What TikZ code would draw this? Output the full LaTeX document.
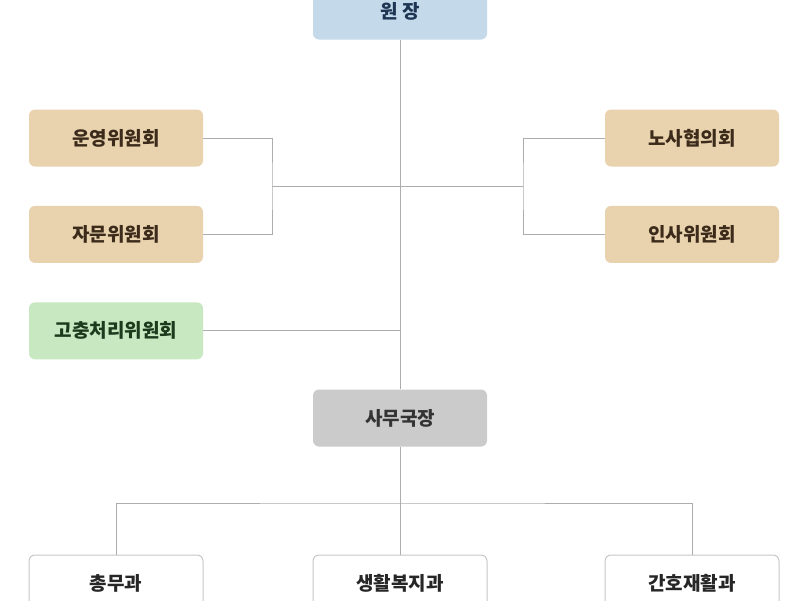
\documentclass[tikz,border=0pt]{standalone}
\usepackage{fontspec}
\usepackage{tikz}
\usetikzlibrary{positioning}
\newfontfamily\krfont{Noto Sans CJK KR}
\definecolor{headblue}{HTML}{C4D9EA}
\definecolor{headtext}{HTML}{1E3553}
\definecolor{cmtan}{HTML}{E9D3AE}
\definecolor{cmtext}{HTML}{3C2B1A}
\definecolor{cmgreen}{HTML}{C7E8C1}
\definecolor{greentext}{HTML}{1D3A1D}
\definecolor{secgray}{HTML}{CBCBCB}
\definecolor{linegray}{HTML}{ADADAD}
\tikzset{
  orgbox/.style={rounded corners=6pt,align=center,inner sep=0pt,
    minimum width=174pt,minimum height=57pt,
    font=\krfont\bfseries\fontsize{19}{22}\selectfont},
  headbox/.style={orgbox,fill=headblue,text=headtext},
  cmtbox/.style={orgbox,fill=cmtan,text=cmtext},
  grnbox/.style={orgbox,fill=cmgreen,text=greentext},
  secbox/.style={orgbox,fill=secgray,text=black!80},
  deptbox/.style={orgbox,fill=white,draw=black!22,line width=1pt,text=black!85},
  link/.style={draw=linegray,line width=0.9pt},
}
\begin{document}
\begin{tikzpicture}[x=1pt,y=-1pt,node distance=39pt and 110pt]
  \useasboundingbox[fill=white] (0,0) rectangle (800,600);
  % top
  \node[headbox] (head) at (400,11) {원 장};
  % committees
  \node[cmtbox] (unyeong) at (116,138) {운영위원회};
  \node[cmtbox,below=of unyeong] (jamun) {자문위원회};
  \node[grnbox,below=of jamun] (gochung) {고충처리위원회};
  \node[cmtbox] (nosa) at (692,138) {노사협의회};
  \node[cmtbox,below=of nosa] (insa) {인사위원회};
  % office
  \node[secbox] (samu) at (400,418) {사무국장};
  % departments
  \node[deptbox] (chongmu) at (116,583.5) {총무과};
  \node[deptbox] (bokji) at (400,583.5) {생활복지과};
  \node[deptbox] (ganho) at (692,583.5) {간호재활과};
  \coordinate (brL) at (272,186);
  \coordinate (brR) at (523,186);
  \coordinate (split) at (400,503);
  \draw[link] (head.south) -- (samu.north);
  \draw[link] (unyeong.east) -| (brL) |- (jamun.east);
  \draw[link] (nosa.west) -| (brR) |- (insa.west);
  \draw[link] (brL) -- (brR);
  \draw[link] (gochung.east) -- (gochung.east -| head.south);
  \draw[link] (samu.south) -- (bokji.north);
  \draw[link] (chongmu.north) |- (split) -| (ganho.north);
\end{tikzpicture}
\end{document}
